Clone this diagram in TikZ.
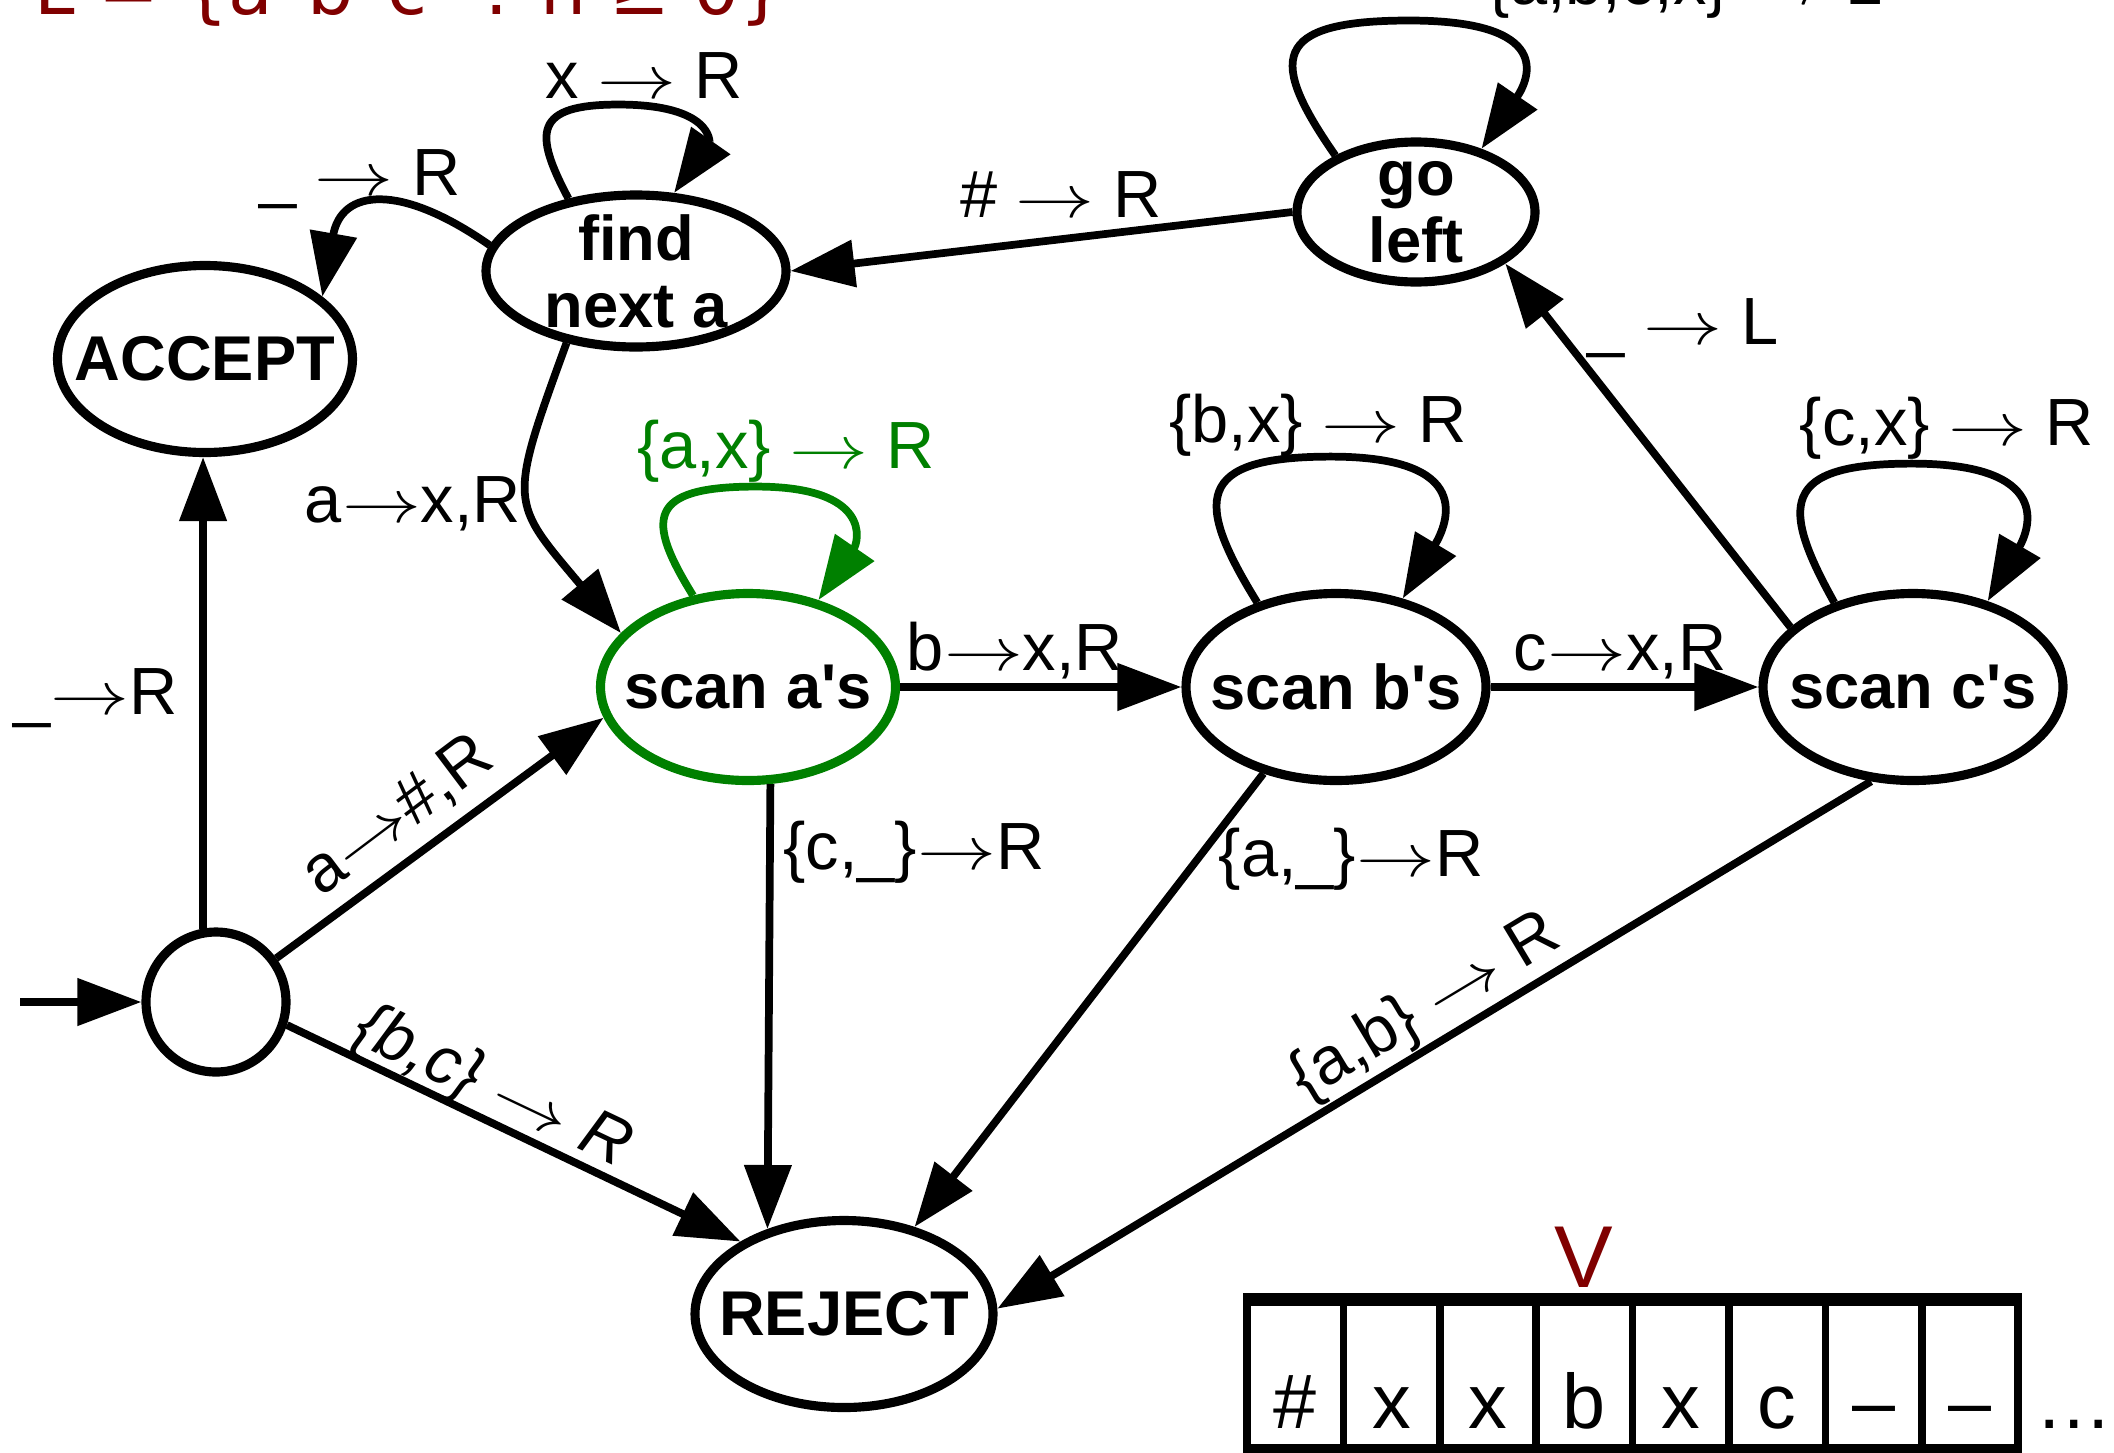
\documentclass[tikz,border=0pt]{standalone}
\usepackage{graphicx}
\usepackage{fontspec}
\setmainfont{Liberation Sans}
\newfontfamily\titlefont{DejaVu Sans}
\usetikzlibrary{arrows.meta,shapes.geometric}
\definecolor{darkred}{RGB}{128,0,0}
\definecolor{loopgreen}{RGB}{0,128,0}
% a slightly stretched arrow for the transition labels
\newcommand{\goesto}{\scalebox{1.3}[1]{$\rightarrow$}}

\begin{document}
\begin{tikzpicture}[
  state/.style={ellipse, draw, line width=2.6pt, inner sep=0pt},
  statetext/.style={font=\fontsize{18}{19}\selectfont\bfseries, align=center},
  edge/.style={line width=2.2pt, -{Triangle[length=6.4mm, width=4.6mm]}},
  lbl/.style={font=\fontsize{19}{22}\selectfont, anchor=base, inner sep=0pt},
  cell/.style={draw, line width=2.2pt, minimum width=0.964cm, minimum height=1.46cm, inner sep=0pt},
  sym/.style={font=\fontsize{22}{24}\selectfont, anchor=base, inner sep=0pt}
]
  \useasboundingbox (0,0) rectangle (21.14,-14.52);
  \clip (0,0) rectangle (21.14,-14.52);
  % texts
  \node[anchor=base west, inner sep=0pt, text=darkred, font=\titlefont\fontsize{20.7}{24}\selectfont] (title) at (0.34,-0.14) {L = \{a\textsuperscript{n}b\textsuperscript{n}c\textsuperscript{n} : n ≥ 0\}};
  % states
  \node[draw, circle, line width=2.6pt, minimum size=1.40cm, inner sep=0pt] (start) at (2.16,-10.02) {};
  \node[state, minimum width=2.95cm, minimum height=1.87cm, label={[statetext]center:ACCEPT}] (accept) at (2.05,-3.59) {};
  \node[state, minimum width=3.0cm, minimum height=1.52cm, label={[statetext]center:find\\next a}] (find) at (6.36,-2.71) {};
  \node[state, minimum width=2.38cm, minimum height=1.40cm, label={[statetext]center:go\\left}] (goleft) at (14.16,-2.12) {};
  \node[state, draw=loopgreen, minimum width=2.95cm, minimum height=1.87cm, label={[statetext]center:scan a\textquotesingle s}] (sa) at (7.48,-6.87) {};
  \node[state, minimum width=3.0cm, minimum height=1.87cm, label={[statetext]center:scan b\textquotesingle s}] (sb) at (13.36,-6.87) {};
  \node[state, minimum width=3.0cm, minimum height=1.87cm, label={[statetext]center:scan c\textquotesingle s}] (sc) at (19.13,-6.87) {};
  \node[state, minimum width=2.98cm, minimum height=1.87cm, label={[statetext]center:REJECT}] (reject) at (8.44,-13.14) {};
  % start transitions
  \coordinate (entry) at (0.20,-10.02);
  \draw[edge] (entry) -- (start);
  \draw[edge] (start.100) -- (start.100 |- accept.south);
  \draw[edge] (start.36) -- (sa.192);
  \draw[edge] (start.-18) -- (reject.145);
  % find next a
  \draw[edge] (find.170) to[out=145, in=80, looseness=1.6] (accept.28);
  \draw[edge] (find.133) .. controls +(-0.35,0.66) and +(-0.85,0) .. ++(0.5,0.94) .. controls +(0.95,0) and +(0.35,0.5) .. (find.64);
  \draw[edge] (find.226) to[out=250, in=130, looseness=1.5] (sa.157);
  % scan a's
  \draw[edge, loopgreen] (sa.121) .. controls +(-0.47,0.76) and +(-1.10,0) .. ++(0.63,1.09) .. controls +(1.17,0) and +(0.4,0.58) .. (sa.51);
  \draw[edge] (sa.east) -- (sb.west);
  \draw[edge] (sa.-77) -- (reject.132);
  % scan b's
  \draw[edge] (sb.133) .. controls +(-0.63,1.02) and +(-1.37,0) .. ++(0.735,1.46) .. controls +(1.45,0) and +(0.45,0.75) .. (sb.53);
  \draw[edge] (sb.east) -- (sc.west);
  \draw[edge] (sb.230) -- (reject.51);
  % scan c's
  \draw[edge] (sc.133) .. controls +(-0.54,0.97) and +(-1.32,0) .. ++(0.775,1.39) .. controls +(1.42,0) and +(0.42,0.72) .. (sc.49);
  \draw[edge] (sc.154) -- (goleft.-30);
  \draw[edge] (sc.246) -- (reject.2);
  % go left
  \draw[edge] (goleft.145) .. controls +(-0.66,0.95) and +(-1.40,0) .. ++(0.74,1.35) .. controls +(1.45,0) and +(0.48,0.7) .. (goleft.44);
  \draw[edge] (goleft.west) -- (find.east);
  % transition labels
  \node[lbl] (lxr) at (6.44,-0.98) {x \goesto{} R};
  \node[lbl] (lacc) at (3.60,-1.95) {\_ \goesto{} R};
  \node[lbl] (lhash) at (10.61,-2.17) {\# \goesto{} R};
  \node[lbl, anchor=base west] (lgl) at (14.87,-0.05) {\{a,b,c,x\} \goesto{} L};
  \node[lbl] (lgo) at (16.83,-3.44) {\_ \goesto{} L};
  \node[lbl] (lbx) at (13.18,-4.42) {\{b,x\} \goesto{} R};
  \node[lbl] (lcx) at (19.47,-4.45) {\{c,x\} \goesto{} R};
  \node[lbl, text=loopgreen] (lax) at (7.86,-4.68) {\{a,x\} \goesto{} R};
  \node[lbl] (lfa) at (4.13,-5.22) {a\goesto{}x,R};
  \node[lbl] (lab) at (10.15,-6.70) {b\goesto{}x,R};
  \node[lbl] (lbc) at (16.20,-6.70) {c\goesto{}x,R};
  \node[lbl] (lsa) at (0.96,-7.14) {\_\goesto{}R};
  \node[lbl] (lrej1) at (9.14,-8.69) {\{c,\_\}\goesto{}R};
  \node[lbl] (lrej2) at (13.51,-8.76) {\{a,\_\}\goesto{}R};
  \node[lbl, anchor=center, rotate=37] (lsa2) at (3.98,-8.16) {a\goesto{}\#,R};
  \node[lbl, anchor=center, rotate=-25.4, font=\fontsize{19}{22}\selectfont\itshape] (lrej0) at (4.92,-10.89) {\{b,c\} \goesto{} R};
  \node[lbl, anchor=center, rotate=31] (lrej3) at (14.26,-10.08) {\{a,b\} \goesto{} R};
  % tape
  \foreach \s [count=\i from 0] in {\#,x,x,b,x,c,–,–}{
    \node[cell] (cell\i) at (12.952+0.964*\i,-13.75) {};
    \node[sym] (sym\i) at (12.952+0.964*\i,-14.28) {\s};
  }
  \draw[line width=3.2pt] (cell0.north west) -- (cell7.north east);
  \draw[line width=3.2pt] (cell0.south west) -- (cell7.south east);
  \node[sym, text=darkred, font=\fontsize{25}{28}\selectfont] (head) at (15.84,-12.87) {V};
  \node[sym] (more) at (20.74,-14.28) {…};
\end{tikzpicture}
\end{document}
